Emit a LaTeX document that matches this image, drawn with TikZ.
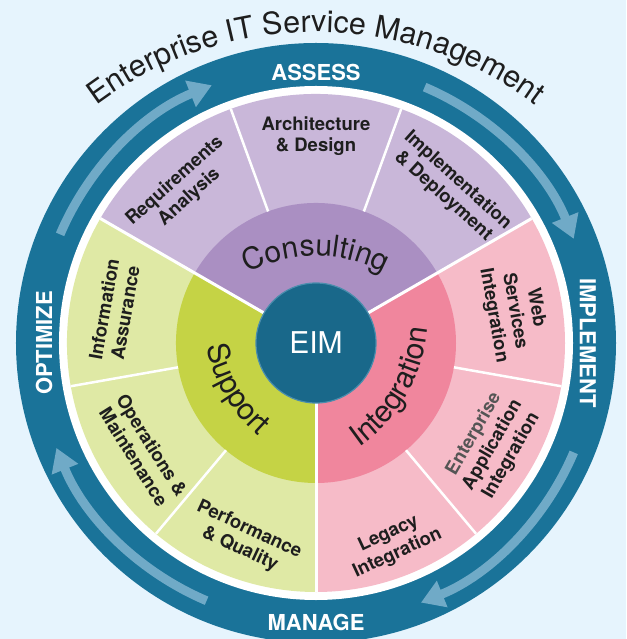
\documentclass[tikz,border=0pt]{standalone}
\usepackage{fontspec}
\setmainfont{TeX Gyre Heros}
\usetikzlibrary{arrows.meta, decorations.text}

\definecolor{Paper}{HTML}{E6F4FD}
\definecolor{Ring}{HTML}{1A7399}
\definecolor{Flow}{HTML}{70AAC7}
\definecolor{ConsIn}{HTML}{AA8FC2}
\definecolor{ConsOut}{HTML}{C9B7D9}
\definecolor{SuppIn}{HTML}{C5D345}
\definecolor{SuppOut}{HTML}{DFE9A5}
\definecolor{IntgIn}{HTML}{F0869D}
\definecolor{IntgOut}{HTML}{F6BBC8}
\definecolor{EimBlue}{HTML}{19688A}
\definecolor{EimRim}{HTML}{4A8DAD}
\definecolor{Ink}{HTML}{1E1E1E}
\definecolor{Dim}{HTML}{555555}

\begin{document}
\begin{tikzpicture}[
    seg/.style={text=Ink, align=center, inner sep=0pt,
                font=\fontsize{18.5}{21.5}\selectfont\bfseries},
    phase/.style={text=white, inner sep=0pt,
                  font=\fontsize{22}{26}\selectfont\bfseries},
    flow/.style={draw=Flow, line width=9pt,
                 -{Triangle[width=27pt, length=23pt]}},
    gap/.style={draw=white, line width=3pt},
    cut/.style={draw=white, line width=2.5pt},
    ]
    \useasboundingbox (-316pt,-296pt) rectangle (310pt,343pt);
    \fill[Paper] (-316pt,-296pt) rectangle (310pt,343pt);

    \fill[Ring] (0,0) circle[radius=300pt];
    \fill[white] (0,0) circle[radius=257pt];

    \draw[flow] (157:278pt) arc[start angle=157, end angle=112, radius=278pt];
    \draw[flow] (67:278pt) arc[start angle=67, end angle=22, radius=278pt];
    \draw[flow] (-23:280pt) arc[start angle=-23, end angle=-68, radius=280pt];
    \draw[flow] (247:280pt) arc[start angle=247, end angle=202, radius=280pt];

    \fill[ConsOut] (0,0) -- (30:249pt)
        arc[start angle=30, end angle=150, radius=249pt] -- cycle;
    \fill[SuppOut] (0,0) -- (150:249pt)
        arc[start angle=150, end angle=270, radius=249pt] -- cycle;
    \fill[IntgOut] (0,0) -- (270:249pt)
        arc[start angle=270, end angle=390, radius=249pt] -- cycle;
    \fill[ConsIn] (0,0) -- (30:140pt)
        arc[start angle=30, end angle=150, radius=140pt] -- cycle;
    \fill[SuppIn] (0,0) -- (150:140pt)
        arc[start angle=150, end angle=270, radius=140pt] -- cycle;
    \fill[IntgIn] (0,0) -- (270:140pt)
        arc[start angle=270, end angle=390, radius=140pt] -- cycle;

    \draw[gap] (0,0) -- (30:249pt);
    \draw[gap] (0,0) -- (150:249pt);
    \draw[gap] (0,0) -- (270:249pt);
    \draw[cut] (70:140pt) -- (70:249pt);
    \draw[cut] (110:140pt) -- (110:249pt);
    \draw[cut] (190:140pt) -- (190:249pt);
    \draw[cut] (230:140pt) -- (230:249pt);
    \draw[cut] (310:140pt) -- (310:249pt);
    \draw[cut] (350:140pt) -- (350:249pt);

    \node[circle, fill=EimBlue, draw=EimRim, line width=1.2pt,
          minimum size=120pt, inner sep=0pt, text=white,
          font=\fontsize{30}{36}\selectfont,
          ] (EIM) at (0,0) {EIM};

    \path[shift={(0,-55pt)}, decorate,
          decoration={text along path, text align=center, text color=Ink,
                      text={|\fontsize{30}{34}\selectfont|Consulting}}]
        (150:142pt) arc[start angle=150, end angle=30, radius=142pt];
    \path[shift={(30:55pt)}, decorate,
          decoration={text along path, text align=center, text color=Ink,
                      text={|\fontsize{30}{34}\selectfont|Support}}]
        (150:160pt) arc[start angle=150, end angle=270, radius=160pt];
    \path[shift={(150:55pt)}, decorate,
          decoration={text along path, text align=center, text color=Ink,
                      text={|\fontsize{30}{34}\selectfont|Integration}}]
        (270:160pt) arc[start angle=270, end angle=390, radius=160pt];

    \path[shift={(0,-55pt)}, decorate,
          decoration={text along path, text align=center, text color=Ink,
                      text={|\fontsize{30.5}{36}\selectfont|Enterprise IT Service Management}}]
        (150:366pt) arc[start angle=150, end angle=30, radius=366pt];

    \node[seg, rotate=42] (Req) at (131:204pt) {Requirements\\Analysis};
    \node[seg] (Arch) at (90:207pt) {Architecture\\\& Design};
    \node[seg, rotate=-42] (Impl) at (49:205pt) {Implementation\\\& Deployment};
    \node[seg, rotate=-80] (Web) at (9:201pt) {Web\\Services\\Integration};
    \node[seg, rotate=60] (EAI) at (330:204pt)
        {{\color{Dim}Enterprise}\\Application\\Integration};
    \node[seg, rotate=25] (Legacy) at (291:215pt) {Legacy\\Integration};
    \node[seg, rotate=-25] (Perf) at (250:209pt) {Performance\\\& Quality};
    \node[seg, rotate=-58] (Ops) at (212:204pt) {Operations \&\\Maintenance};
    \node[seg, rotate=80] (Info) at (171:204pt) {Information\\Assurance};

    \node[phase] (Assess) at (90:271pt) {ASSESS};
    \node[phase, rotate=-90] (Implement) at (0:272pt) {IMPLEMENT};
    \node[phase] (Manage) at (270:279pt) {MANAGE};
    \node[phase, rotate=90] (Optimize) at (180:272pt) {OPTIMIZE};
\end{tikzpicture}
\end{document}
